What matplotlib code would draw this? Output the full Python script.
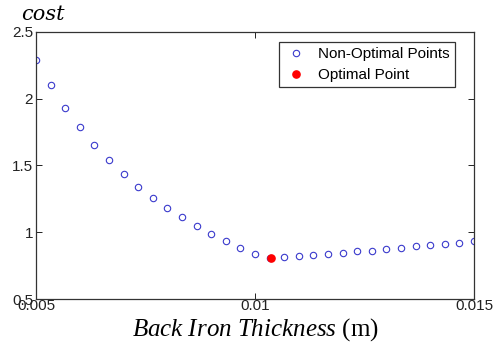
import numpy as np
import matplotlib.pyplot as plt

# back iron thickness sweep (m) and normalised cost
thickness = [0.005 + k / 3000 for k in range(31)]
cost = [2.286, 2.100, 1.931, 1.784, 1.654, 1.542, 1.437, 1.338, 1.258, 1.178,
        1.111, 1.048, 0.986, 0.931, 0.881, 0.838, 0.808, 0.814, 0.819, 0.831,
        0.838, 0.846, 0.856, 0.861, 0.876, 0.881, 0.894, 0.901, 0.913, 0.918,
        0.931]
opt_thickness = [0.01037]
opt_cost = [0.804]

x_ticks = [0.005, 0.01, 0.015]
x_tick_labels = ['0.005', '0.01', '0.015']
y_ticks = [0.5, 1, 1.5, 2, 2.5]
y_tick_labels = ['0.5', '1', '1.5', '2', '2.5']

plt.rcParams['font.family'] = ['Liberation Sans', 'DejaVu Sans']
plt.rcParams['mathtext.fontset'] = 'custom'
plt.rcParams['mathtext.it'] = 'Liberation Serif:italic'

fig = plt.figure(figsize=(4.98, 3.56), dpi=100)
ax = fig.add_axes([0.0723, 0.160, 0.8795, 0.751])

ax.plot(thickness, cost, 'o', mfc='none', mec='#3a3acc', ms=4.6, mew=0.8,
        label='Non-Optimal Points')
ax.plot(opt_thickness, opt_cost, 'o', color='#ff0000', ms=5.2,
        label='Optimal Point')

ax.set_xlim(0.005, 0.015)
ax.set_ylim(0.5, 2.5)
ax.set_xticks(x_ticks)
ax.set_xticklabels(x_tick_labels)
ax.set_yticks(y_ticks)
ax.set_yticklabels(y_tick_labels)
ax.tick_params(direction='in', length=4, width=0.7, labelsize=11,
               top=True, right=True, pad=2, colors='#222222')
ax.tick_params(axis='x', pad=0)
for s in ax.spines.values():
    s.set_linewidth(0.9)
    s.set_color('#333333')

ax.set_xlabel('$Back\\ Iron\\ Thickness$ (m)', fontsize=18,
              family='Liberation Serif', labelpad=2)
fig.text(0.087, 0.945, 'cost', fontsize=15, family='DejaVu Serif',
         style='italic', ha='center', va='baseline')

leg = ax.legend(loc='upper right', bbox_to_anchor=(454.7 / 498, 1 - 41.7 / 356),
                bbox_transform=fig.transFigure, borderaxespad=0, fancybox=False,
                edgecolor='#333333', framealpha=1, fontsize=11, handletextpad=0.6,
                handlelength=1.6, borderpad=0.35, labelspacing=0.45)
leg.get_frame().set_linewidth(0.9)

fig.savefig('out.png', dpi=100)
